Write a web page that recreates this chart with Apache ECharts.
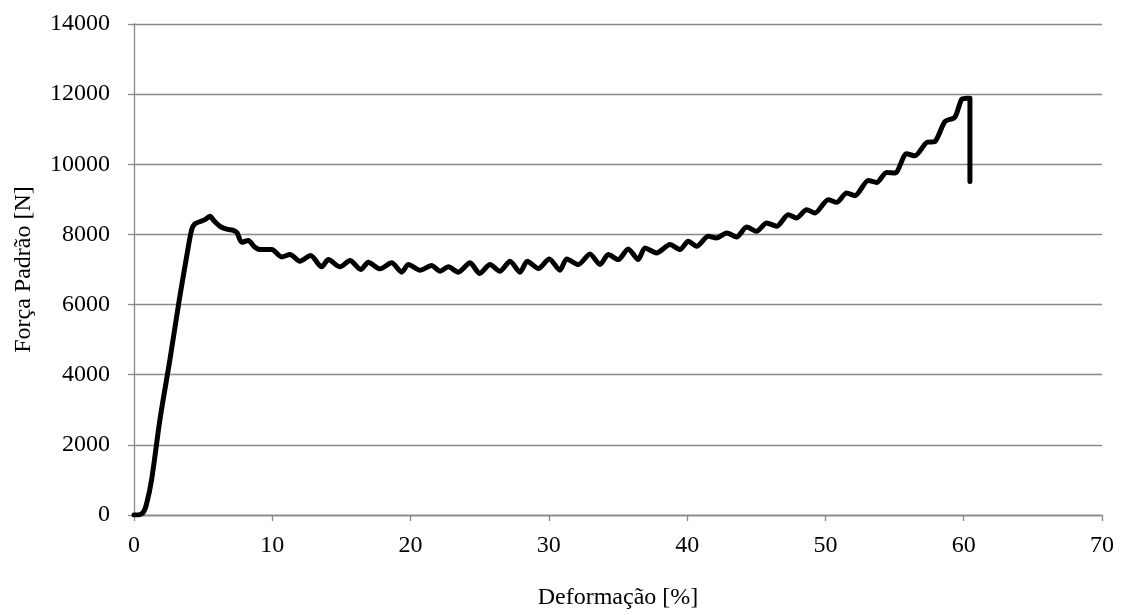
<!DOCTYPE html>
<html><head><meta charset="utf-8">
<script src="https://cdn.jsdelivr.net/npm/echarts@6/dist/echarts.min.js"></script>
<style>html,body{margin:0;padding:0;background:#fff}#c{width:1125px;height:615px}</style>
</head><body><div id="c"></div>
<script>
const strain = [
  0, 0.3, 0.67, 0.9, 1.28, 1.88, 2.6, 3.28, 3.81, 4.17,
  4.4, 4.8, 5.13, 5.5, 5.8, 6.22, 6.7, 7.18, 7.45, 7.79,
  8.27, 8.7, 9.11, 9.96, 10.68, 11.28, 12.0, 12.77, 13.57, 14.05,
  14.9, 15.62, 16.4, 16.94, 17.79, 18.63, 19.36, 19.84, 20.68, 21.52,
  22.13, 22.73, 23.45, 24.3, 25.0, 25.74, 26.46, 27.19, 27.91, 28.44,
  29.24, 30.03, 30.8, 31.29, 32.13, 32.97, 33.7, 34.3, 35.02, 35.74,
  36.46, 36.95, 37.79, 38.76, 39.48, 40.08, 40.69, 41.53, 42.13, 42.86,
  43.58, 44.3, 45.02, 45.75, 46.47, 47.31, 47.9, 48.64, 49.24, 50.2,
  50.81, 51.53, 52.13, 53.1, 53.7, 54.42, 55.03, 55.87, 56.47, 57.32,
  57.92, 58.64, 59.36, 59.85, 60.2, 60.45, 60.45
];
const force = [
  0, 0, 75, 300, 1024, 2731, 4440, 6146, 7378, 8137,
  8300, 8370, 8422, 8516, 8380, 8232, 8150, 8118, 8050, 7776,
  7825, 7650, 7568, 7568, 7359, 7426, 7236, 7397, 7075, 7283,
  7075, 7255, 6999, 7207, 7018, 7189, 6923, 7141, 6980, 7113,
  6952, 7075, 6923, 7189, 6885, 7141, 6952, 7236, 6923, 7236,
  7027, 7302, 6980, 7302, 7141, 7445, 7141, 7426, 7283, 7587,
  7283, 7616, 7473, 7710, 7568, 7804, 7663, 7947, 7900, 8043,
  7928, 8213, 8090, 8327, 8232, 8563, 8470, 8705, 8612, 8990,
  8914, 9180, 9104, 9540, 9483, 9768, 9749, 10299, 10242, 10621,
  10650, 11218, 11342, 11854, 11880, 11883, 9511
];
const xTicks = [0, 10, 20, 30, 40, 50, 60, 70];
const yTicks = [0, 2000, 4000, 6000, 8000, 10000, 12000, 14000];
const xName = 'Deformação [%]';
const yName = 'Força Padrão [N]';

const data = strain.map((x, i) => [x, force[i]]);
const font = 'Liberation Serif';
const gray = '#898989';
const chart = echarts.init(document.getElementById('c'), null, {renderer: 'canvas'});
chart.setOption({
  animation: false,
  backgroundColor: '#fff',
  grid: {left: 134, right: 23, top: 24, bottom: 99, containLabel: false},
  xAxis: {
    type: 'value', min: xTicks[0], max: xTicks[xTicks.length - 1], interval: 10,
    name: xName, nameLocation: 'middle', nameGap: 71,
    nameTextStyle: {fontFamily: font, fontSize: 24, color: '#000'},
    axisLine: {show: true, lineStyle: {color: gray, width: 1.3}},
    axisTick: {show: true, inside: false, length: 6, lineStyle: {color: gray, width: 1.3}},
    axisLabel: {fontFamily: font, fontSize: 24, color: '#000', margin: 19, formatter: v => String(v)},
    splitLine: {show: false}
  },
  yAxis: {
    type: 'value', min: yTicks[0], max: yTicks[yTicks.length - 1], interval: 2000,
    name: yName, nameLocation: 'middle', nameGap: 98, nameRotate: 90,
    nameTextStyle: {fontFamily: font, fontSize: 24, color: '#000'},
    axisLine: {show: true, lineStyle: {color: gray, width: 1.3}},
    axisTick: {show: true, inside: false, length: 6, lineStyle: {color: gray, width: 1.3}},
    axisLabel: {fontFamily: font, fontSize: 24, color: '#000', margin: 24, formatter: v => String(v)},
    splitLine: {show: true, lineStyle: {color: gray, width: 1.3}}
  },
  series: [{
    type: 'line', data: data, showSymbol: false, smooth: 0.25,
    lineStyle: {color: '#000', width: 5, cap: 'round', join: 'round'}
  }]
});
</script></body></html>
